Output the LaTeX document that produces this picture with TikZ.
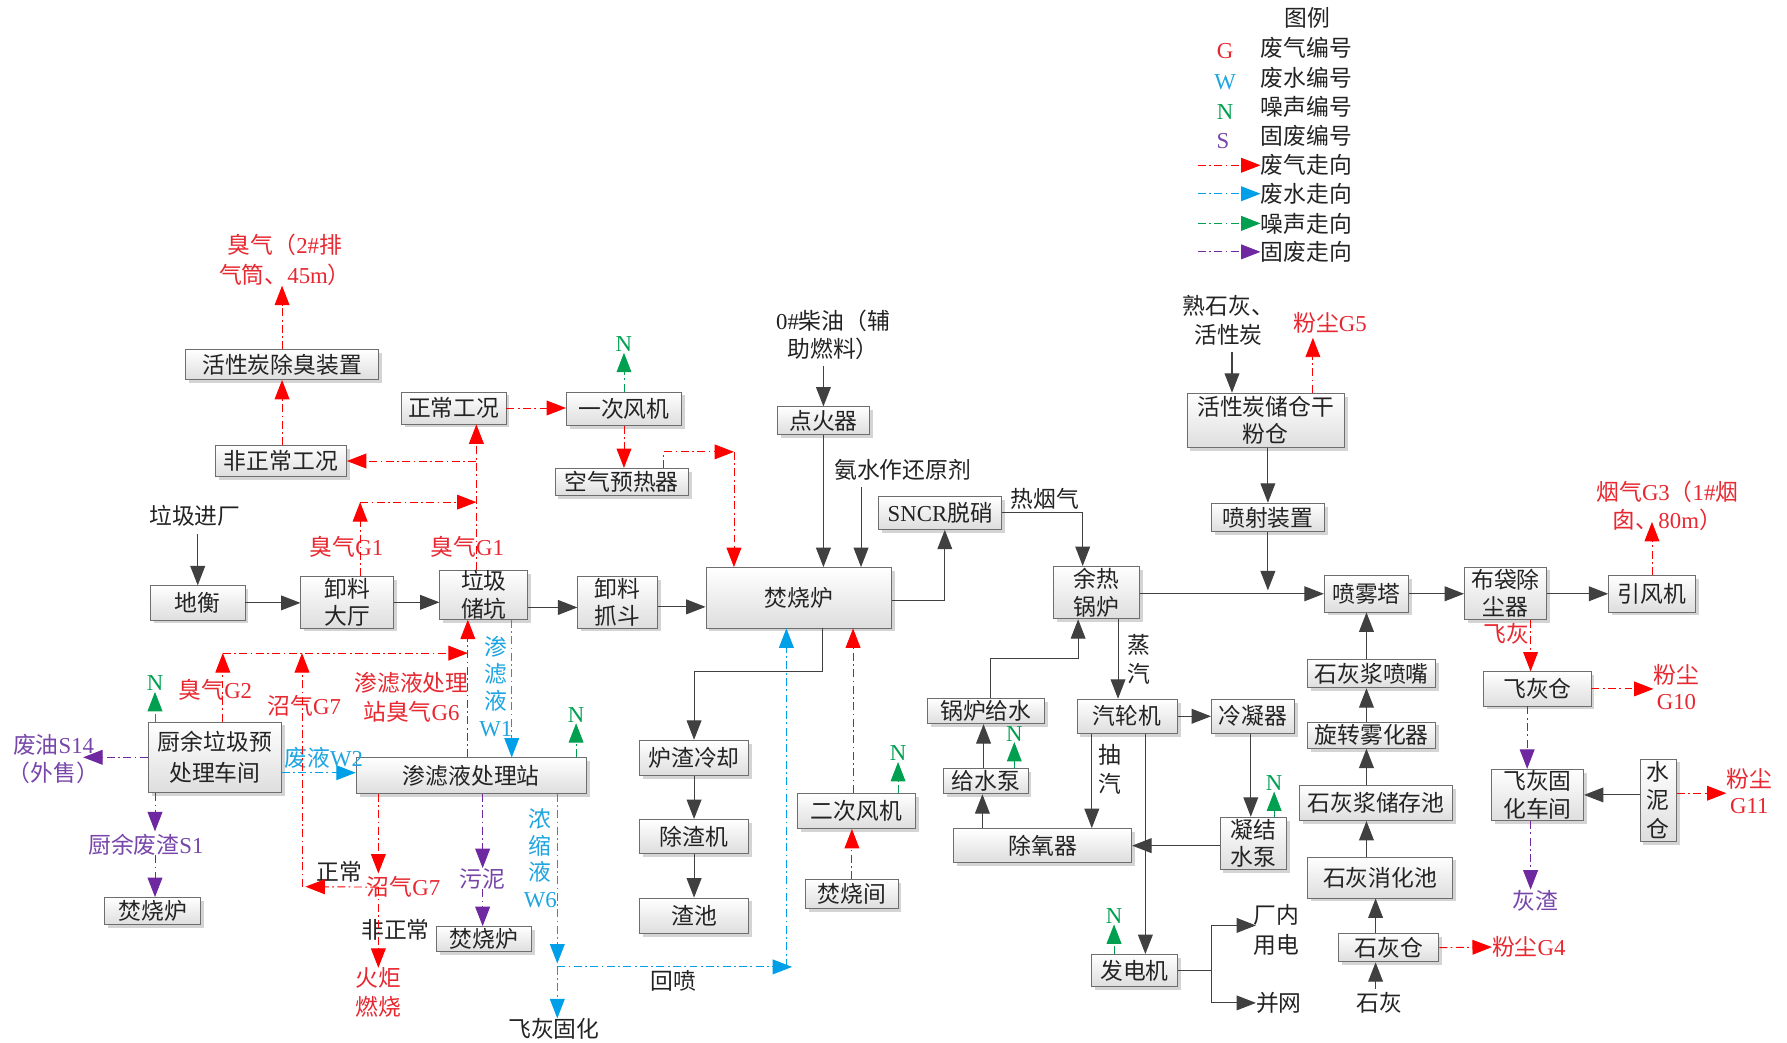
\documentclass[tikz,border=0pt]{standalone}
\usepackage{fontspec}
\setmainfont{Liberation Serif}
\newfontfamily\cjk{Noto Sans CJK SC}
\usetikzlibrary{arrows.meta,shadows,calc}
\definecolor{boxc}{RGB}{110,110,110}
\definecolor{linec}{RGB}{64,64,64}
\definecolor{redt}{RGB}{232,40,48}
\definecolor{reda}{RGB}{255,0,0}
\definecolor{cyant}{RGB}{30,165,225}
\definecolor{cyana}{RGB}{0,160,233}
\definecolor{greent}{RGB}{0,160,80}
\definecolor{purpt}{RGB}{120,70,170}
\definecolor{purpa}{RGB}{110,40,160}
\definecolor{txt}{RGB}{35,35,35}
\newcommand\rmx[1]{{\rmfamily #1}}
\newcommand\myfs[1]{\fontsize{20}{#1}\selectfont}
\newcommand\mybx[6]{\node[box,minimum width=#4pt,minimum height=#5pt] (#1) at (#2,#3) {#6};}
\tikzset{
  box/.style={draw=boxc, line width=0.8pt, top color=white, bottom color=black!13,
     drop shadow={shadow xshift=3pt,shadow yshift=-3pt,opacity=0.3,fill=black!55},
     inner sep=0pt, align=center, text=txt, font=\cjk\myfs{24}},
  lbl/.style={inner sep=0pt, align=center, text=txt, font=\cjk\myfs{25}},
  rt/.style={lbl, text=redt},
  ct/.style={lbl, text=cyant},
  pt/.style={lbl, text=purpt},
  tipx/.style={-{Triangle[length=17pt,width=13pt]}},
  ln/.style={draw=linec, line width=0.9pt},
  ar/.style={ln, tipx},
  dd/.style={line width=0.8pt, dash pattern=on 7pt off 3pt on 1.5pt off 3pt},
  rar/.style={dd, draw=reda, tipx},
  war/.style={dd, draw=cyana, tipx},
  gar/.style={dd, draw=greent, tipx},
  par/.style={dd, draw=purpa, tipx},
  ntx/.style={inner sep=0.5pt, text=greent, font=\rmfamily\myfs{24}, anchor=south},
  lgl/.style={inner sep=0pt, font=\rmfamily\myfs{24}},
}
\newcommand\myN[3]{\draw[gar] #1 -- ++(0,-#2) node[ntx] (#3) {N};}
\begin{document}
\begin{tikzpicture}[x=1pt,y=-1pt]
\fill[white] (0,0) rectangle (1568,915);
\useasboundingbox (0,0) rectangle (1568,915);

% ---------- legend ----------
\node[lbl] (lg0) at (1147,16) {图例};
\node[lgl,text=redt] (lgG) at (1075,45) {G};
\node[lgl,text=cyant] (lgW) at (1075,72) {W};
\node[lgl,text=greent] (lgN) at (1075,98) {N};
\node[lgl,text=purpt] (lgS) at (1073,124) {S};
\node[lbl,anchor=west] (lg1) at (1106,42) {废气编号};
\node[lbl,anchor=west] (lg2) at (1106,68) {废水编号};
\node[lbl,anchor=west] (lg3) at (1106,94) {噪声编号};
\node[lbl,anchor=west] (lg4) at (1106,119) {固废编号};
\node[lbl,anchor=west] (lg5) at (1106,145) {废气走向};
\node[lbl,anchor=west] (lg6) at (1106,170) {废水走向};
\node[lbl,anchor=west] (lg7) at (1106,196) {噪声走向};
\node[lbl,anchor=west] (lg8) at (1106,221) {固废走向};
\coordinate (l5) at (1051,145);
\coordinate (l6) at (1051,170);
\coordinate (l7) at (1051,196);
\coordinate (l8) at (1051,221);
\draw[rar] (l5) -- (lg5.west);
\draw[war] (l6) -- (lg6.west);
\draw[gar] (l7) -- (lg7.west);
\draw[par] (l8) -- (lg8.west);

% ---------- boxes ----------
\mybx{hxt}{247.5}{320}{169}{26}{活性炭除臭装置}
\mybx{fzc}{246.5}{404.5}{115}{27}{非正常工况}
\mybx{zc}{398}{358}{92}{28}{正常工况}
\mybx{ycfj}{547.5}{358.5}{101}{29}{一次风机}
\mybx{kqyr}{545.5}{423}{117}{24}{空气预热器}
\mybx{dh}{173.5}{529}{83}{30}{地衡}
\mybx{xldt}{304.5}{528.5}{81}{45}{卸料\\大厅}
\mybx{ljck}{424.5}{522}{77}{40}{垃圾\\储坑}
\mybx{xlzd}{542}{528.5}{70}{45}{卸料\\抓斗}
\mybx{fsl}{701}{524.5}{163}{53}{焚烧炉}
\mybx{dhq}{722.5}{369}{81}{24}{点火器}
\mybx{sncr}{825}{450}{108}{29}{\rmx{SNCR}脱硝}
\mybx{yrgl}{962}{520}{75}{46}{余热\\锅炉}
\mybx{hxtc}{1110.5}{369}{138}{48}{活性炭储仓干\\粉仓}
\mybx{pszz}{1112.5}{454}{99}{25}{喷射装置}
\mybx{pwt}{1199}{521}{74}{32}{喷雾塔}
\mybx{bdcc}{1321}{520.5}{72}{46}{布袋除\\尘器}
\mybx{yfj}{1449.5}{521}{76}{32}{引风机}
\mybx{fhc}{1349}{604.5}{94}{30}{飞灰仓}
\mybx{fhgh}{1349}{697.5}{81}{45}{飞灰固\\化车间}
\node[box,minimum width=32pt,minimum height=72pt,font=\cjk\myfs{25}] (snc) at (1455,702) {水\\泥\\仓};
\mybx{shjpz}{1203.5}{591}{112}{25}{石灰浆喷嘴}
\mybx{xzwh}{1203.5}{645}{112}{23}{旋转雾化器}
\mybx{shjcc}{1207.5}{704.5}{134}{31}{石灰浆储存池}
\mybx{shxh}{1211}{770}{127}{36}{石灰消化池}
\mybx{shc}{1218.5}{831.5}{88}{25}{石灰仓}
\mybx{qlj}{989}{628.5}{88}{30}{汽轮机}
\mybx{lnq}{1099.5}{628.5}{73}{30}{冷凝器}
\mybx{glgs}{865}{624}{103}{22}{锅炉给水}
\mybx{gsb}{865}{685.5}{74}{22}{给水泵}
\mybx{cyq}{915}{742}{156}{30}{除氧器}
\mybx{njsb}{1099.5}{740}{58}{46}{凝结\\水泵}
\mybx{fdj}{995.5}{851.5}{76}{28}{发电机}
\mybx{lzlq}{609}{665}{96}{31}{炉渣冷却}
\mybx{czj}{609}{734}{96}{30}{除渣机}
\mybx{zc2}{609}{803.5}{96}{31}{渣池}
\mybx{ecfj}{751.5}{711.5}{103}{31}{二次风机}
\mybx{fsj}{747.5}{784.5}{81}{25}{焚烧间}
\node[box,minimum width=117pt,minimum height=62pt,font=\cjk\myfs{27}] (cy) at (188.5,664.5) {厨余垃圾预\\处理车间};
\mybx{slz}{413.5}{680.5}{202}{31}{渗滤液处理站}
\mybx{fsl1}{134}{799.5}{84}{24}{焚烧炉}
\mybx{fsl2}{424.5}{824}{83}{22}{焚烧炉}

% ---------- labels ----------
\node[rt,font=\cjk\myfs{26}] (t_cq2) at (250,228) {臭气（\rmx{2\#}排\\气筒、\rmx{45m}）};
\node[rt] (t_g1a) at (304,480) {臭气\rmx{G1}};
\node[rt] (t_g1b) at (410,480) {臭气\rmx{G1}};
\node[lbl] (t_ljjc) at (171,453) {垃圾进厂};
\node[lbl] (t_cy0) at (731,294) {\rmx{0\#}柴油（辅\\助燃料）};
\node[lbl] (t_as) at (792,412) {氨水作还原剂};
\node[lbl] (t_ryq) at (917,438) {热烟气};
\node[lbl,font=\cjk\myfs{26}] (t_shh) at (1078,281) {熟石灰、\\活性炭};
\node[rt] (t_g5) at (1167,283) {粉尘\rmx{G5}};
\node[rt] (t_g3) at (1463,444) {烟气\rmx{G3}（\rmx{1\#}烟\\囱、\rmx{80m}）};
\node[rt] (t_fh) at (1322,556) {飞灰};
\node[rt,font=\cjk\myfs{23}] (t_g10) at (1471,603) {粉尘\\\rmx{G10}};
\node[rt,font=\cjk\myfs{23}] (t_g11) at (1535,694) {粉尘\\\rmx{G11}};
\node[pt] (t_hz) at (1347,790) {灰渣};
\node[rt,anchor=west] (t_g4) at (1309,831) {粉尘\rmx{G4}};
\node[lbl] (t_sh) at (1210,880) {石灰};
\node[lbl] (t_zq) at (999,578.5) {蒸\\汽};
\node[lbl,font=\cjk\myfs{26}] (t_cq) at (974,675) {抽\\汽};
\node[lbl,font=\cjk\myfs{26}] (t_cn) at (1120,816) {厂内\\用电};
\node[lbl,anchor=west] (t_bw) at (1102,880) {并网};
\node[lbl] (t_hp) at (591,861) {回喷};
\node[lbl] (t_fhgh) at (486,903) {飞灰固化};
\node[rt] (t_g2) at (189,605) {臭气\rmx{G2}};
\node[rt] (t_g7a) at (267,619) {沼气\rmx{G7}};
\node[rt,font=\cjk\myfs{25}] (t_g6) at (361,612) {渗滤液处理\\站臭气\rmx{G6}};
\node[ct,font=\cjk\myfs{23.7}] (t_w1) at (435,602.5) {渗\\滤\\液\\\rmx{W1}};
\node[ct,font=\cjk\myfs{23.3}] (t_w6) at (474,753) {浓\\缩\\液\\\rmx{W6}};
\node[ct] (t_w2) at (284,665) {废液\rmx{W2}};
\node[pt,font=\cjk\myfs{24}] (t_s14) at (47,666) {废油\rmx{S14}\\（外售）};
\node[pt] (t_s1) at (128,741) {厨余废渣\rmx{S1}};
\node[pt] (t_wn) at (423,771) {污泥};
\node[lbl] (t_zcl) at (298,765) {正常};
\node[rt] (t_g7b) at (354,778) {沼气\rmx{G7}};
\node[lbl] (t_fzcl) at (347,816) {非正常};
\node[rt,font=\cjk\myfs{25}] (t_hj) at (332,871) {火炬\\燃烧};

% ---------- black connectors ----------
\draw[ar] ($(dh.north |- t_ljjc.south)+(0,6)$) -- (dh.north);
\draw[ar] (dh.east) -- (xldt.west |- dh.east);
\draw[ar] (xldt.east) -- (ljck.west |- xldt.east);
\draw[ar] ($(ljck.east)+(0,11)$) -- ($(xlzd.west)+(0,4.5)$);
\draw[ar] ($(xlzd.east)+(0,4)$) -- ($(fsl.west)+(0,8)$);
\draw[ar] ($(dhq.north |- t_cy0.south)+(0,5)$) -- (dhq.north);
\draw[ar] (dhq.south) -- (dhq.south |- fsl.north);
\coordinate (asE) at ($(fsl.north)+(54.5,0)$);
\draw[ar] ($(asE |- t_as.south)+(0,6)$) -- (asE);
\draw[ar] ($(fsl.east)+(0,2.5)$) -| ($(sncr.south)+(4,0)$);
\draw[ar] (sncr.east) -| ($(yrgl.north)+(-12,0)$);
\draw[ar] (yrgl.east |- pwt.west) -- (pwt.west);
\draw[ar] (pszz.south) -- ($(pszz.south |- pwt.west)+(0,-3)$);
\draw[ar] (hxtc.south -| pszz.south) -- (pszz.north);
\coordinate (shhX) at ($(hxtc.north)+(-29.5,0)$);
\draw[ar] ($(shhX |- t_shh.south)+(0,5)$) -- (shhX);
\draw[ar] (pwt.east) -- (bdcc.west |- pwt.east);
\draw[ar] (bdcc.east |- yfj.west) -- (yfj.west);
\draw[ar] (snc.west |- fhgh.east) -- (fhgh.east);
\coordinate (lx) at (1199,0);
\draw[ar] (shjpz.north -| lx) -- (pwt.south -| lx);
\draw[ar] (xzwh.north -| lx) -- (shjpz.south -| lx);
\draw[ar] (shjcc.north -| lx) -- (xzwh.south -| lx);
\draw[ar] (shxh.north -| lx) -- (shjcc.south -| lx);
\coordinate (lx2) at (1207,0);
\draw[ar] (shc.north -| lx2) -- (shxh.south -| lx2);
\draw[ar] ($(t_sh.north -| lx2)+(0,-3)$) -- (shc.south -| lx2);
\coordinate (zqX) at ($(yrgl.south)+(19,0)$);
\draw[ar] (zqX) -- (zqX |- qlj.north);
\draw[ar] (qlj.east) -- (lnq.west |- qlj.east);
\draw[ar] ($(glgs.north)+(4,0)$) -- ++(0,-35) -| ($(yrgl.south)+(-16,0)$);
\draw[ar] ($(gsb.north)+(-2,0)$) -- ($(gsb.north |- glgs.south)+(-2,0)$);
\draw[ar] ($(cyq.north -| gsb.south)+(-3,0)$) -- ($(gsb.south)+(-3,0)$);
\coordinate (cqX) at ($(qlj.south)+(-31,0)$);
\draw[ar] (cqX) -- (cqX |- cyq.north);
\coordinate (fdX) at ($(qlj.south)+(16,0)$);
\draw[ar] (fdX) -- (fdX |- fdj.north);
\draw[ar] ($(lnq.south)+(-2,0)$) -- ($(lnq.south |- njsb.north)+(-2,0)$);
\draw[ar] (njsb.west |- cyq.east) -- (cyq.east);
\draw[ln] (fdj.east) -- ++(29,0) coordinate (fdB);
\coordinate (cnE) at (1102,812);
\draw[ar] (fdB) |- (cnE);
\draw[ar] (fdB) |- (t_bw.west);
\draw[ar] ($(fsl.south)+(21,0)$) -- ++(0,38) -| (lzlq.north);
\draw[ar] (lzlq.south) -- (czj.north);
\draw[ar] (czj.south) -- (zc2.north);

% ---------- red (waste gas) ----------
\draw[rar] (hxt.north) -- (hxt.north |- t_cq2.south);
\draw[rar] (hxt.south |- fzc.north) -- (hxt.south);
\coordinate (vL) at ($(ljck.north)+(-6.5,0)$);
\draw[rar] (vL) -- (vL |- zc.south);
\draw[rar] (vL |- fzc.east) -- (fzc.east);
\draw[rar] ($(xldt.north)+(11.5,0)$) -- ++(0,-65) coordinate (c1);
\draw[rar] (c1) -- (c1 -| vL);
\draw[rar] (zc.east) -- (ycfj.west |- zc.east);
\draw[rar] (ycfj.south) -- (ycfj.south |- kqyr.north);
\coordinate (kc) at (644,396.5);
\draw[rar] ($(kqyr.north)+(37,0)$) |- (kc);
\draw[rar] (kc) -- (kc |- fsl.north);
\draw[rar] ($(ecfj.north)+(-3,0)$) -- ($(ecfj.north |- fsl.south)+(-3,0)$);
\draw[rar] (fsj.north) -- (fsj.north |- ecfj.south);
\coordinate (g5X) at ($(hxtc.north)+(41.5,0)$);
\draw[rar] (g5X) -- ($(g5X |- t_g5.south)+(0,4)$);
\draw[rar] (yfj.north) -- (yfj.north |- 0,458);
\draw[rar] ($(bdcc.south)+(22,0)$) -- ($(bdcc.south |- fhc.north)+(22,0)$);
\draw[rar] (fhc.east) -- (fhc.east -| t_g10.west);
\draw[rar] ($(snc.east)+(0,-6)$) -- ($(snc.east -| t_g11.west)+(0,-6)$);
\draw[rar] (shc.east) -- (t_g4.west);
\coordinate (vM) at ($(ljck.south)+(-14,0)$);
\draw[rar] (vM |- slz.north) -- (vM);
\draw[rar] ($(cy.north)+(7,0)$) -- ++(0,-60) coordinate (c2);
\draw[rar] (c2) -- (c2 -| vM);
\coordinate (j1) at ($(slz.south)+(-81.5,82)$);
\draw[rar] (j1 |- slz.south) -- ($(j1)+(0,-12)$);
\coordinate (zcX) at (265,778);
\draw[rar] (j1) -- ($(zcX)+(3,0)$);
\draw[rar] (zcX) -- (zcX |- c2);
\draw[rar] (j1) -- (j1 |- t_hj.north);

% ---------- cyan (waste water) ----------
\coordinate (w1X) at ($(ljck.south)+(24.5,0)$);
\draw[war] (w1X) -- (w1X |- slz.north);
\draw[war] ($(cy.east)+(0,13.5)$) -- ($(cy.east -| slz.west)+(0,13.5)$);
\coordinate (j2) at ($(slz.south)+(75.5,152)$);
\draw[war] (j2 |- slz.south) -- ($(j2)+(0,-3)$);
\draw[war] (j2) -- (j2 |- t_fhgh.north);
\coordinate (hpX) at ($(fsl.south)+(-11,0)$);
\draw[war] (j2) -- ($(hpX |- j2)+(5,0)$);
\draw[war] (hpX |- j2) -- (hpX);

% ---------- purple (solid waste) ----------
\coordinate (s14E) at (73,664.5);
\draw[par] (cy.west) -- (s14E);
\coordinate (cyS) at ($(cy.south)+(-52.5,0)$);
\draw[par] (cyS) -- ($(cyS |- t_s1.north)+(0,-2)$);
\draw[par] (cyS |- t_s1.south) -- (cyS |- fsl1.north);
\coordinate (wnX) at ($(slz.south)+(10,0)$);
\draw[par] (wnX) -- (wnX |- t_wn.north);
\draw[par] (wnX |- t_wn.south) -- (wnX |- fsl2.north);
\draw[par] ($(fhc.south)+(-9,0)$) -- ($(fhc.south |- fhgh.north)+(-9,0)$);
\draw[par] ($(fhgh.south)+(-6,0)$) -- ($(fhgh.south |- t_hz.north)+(-6,0)$);

% ---------- green (noise) ----------
\myN{(ycfj.north)}{34}{n1}
\myN{($(cy.north)+(-52.5,0)$)}{26}{n2}
\myN{($(slz.north)+(92,0)$)}{30}{n3}
\myN{($(ecfj.north)+(36.5,0)$)}{27}{n4}
\myN{($(gsb.north)+(25,0)$)}{23}{n5}
\myN{($(njsb.north)+(18.5,0)$)}{22}{n6}
\myN{($(fdj.north)+(-18,0)$)}{26}{n7}
\end{tikzpicture}
\end{document}
